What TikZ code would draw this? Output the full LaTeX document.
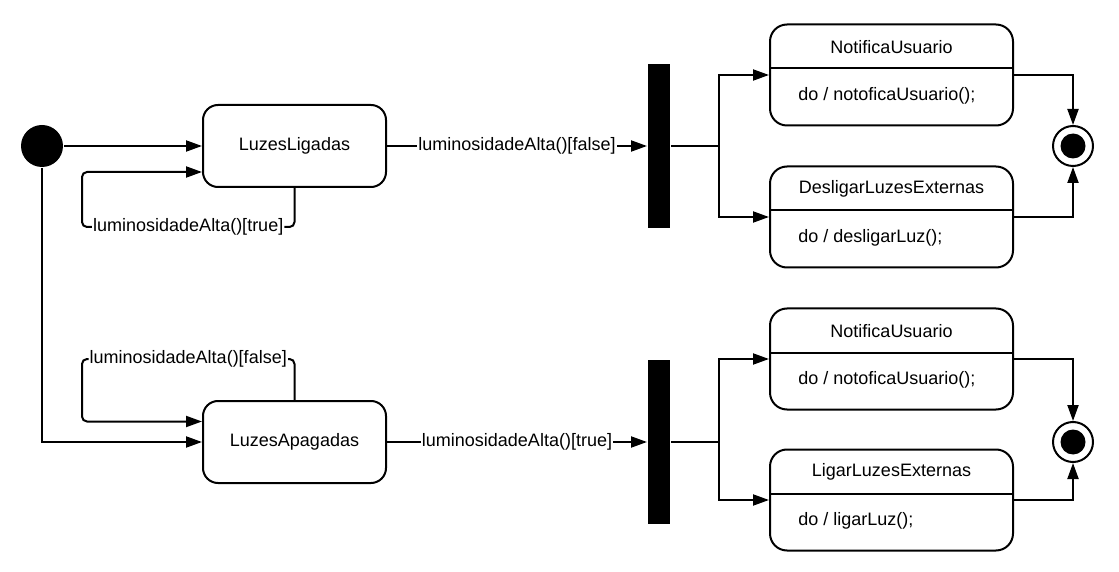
\documentclass[tikz,border=0pt]{standalone}
\usepackage{fontspec}
\setmainfont{Liberation Sans}
\usetikzlibrary{arrows.meta,positioning,calc}

\begin{document}
\begin{tikzpicture}[x=1pt, y=1pt, line width=2pt, >={Triangle[length=16pt,width=11pt]}, font=\fontsize{18pt}{21pt}\selectfont] % y runs upwards

		\tikzstyle{statebox} = [draw, rectangle, rounded corners=15pt, minimum width=183pt, minimum height=82pt, align=center]
		\tikzstyle{umlbox} = [draw, rectangle, rounded corners=17pt, minimum width=243pt, minimum height=101pt]
		\tikzstyle{startstate} = [circle, fill=black, minimum size=42pt, inner sep=0pt]
		\tikzstyle{endstate} = [circle, draw, fill=white, minimum size=40pt, inner sep=0pt, path picture={\fill[black] (path picture bounding box.center) circle (12.5pt);}]
		\tikzstyle{forkbar} = [rectangle, fill=black, minimum width=22pt, minimum height=164pt, inner sep=0pt]
		\tikzstyle{guard} = [fill=white, inner xsep=1pt, inner ysep=2pt]

		\useasboundingbox (0,0) rectangle (1119,571);

		\node [startstate] (start) at (42,425) {};
		\node [statebox] (ligadas) at (294.5,425) {LuzesLigadas};
		\node [statebox, below = 212pt of ligadas] (apagadas) {LuzesApagadas};
		\node [forkbar, right = 260pt of ligadas] (fork1) {};
		\node [forkbar, right = 260pt of apagadas] (fork2) {};

		% lado direito: estados com atividade "do"
		\node [umlbox] (notif1) at (891.5,496) {};
		\node [umlbox] (desl) at (891.5,354) {};
		\node [umlbox] (notif2) at (891.5,212) {};
		\node [umlbox] (ligar) at (891.5,71) {};

		\node (notif1t) at ([yshift=28pt]notif1.center) {NotificaUsuario};
		\node [anchor=west] (notif1d) at ([xshift=25pt, yshift=-20.5pt]notif1.west) {do / notoficaUsuario();};
		\node (deslt) at ([yshift=28pt]desl.center) {DesligarLuzesExternas};
		\node [anchor=west] (desld) at ([xshift=25pt, yshift=-20.5pt]desl.west) {do / desligarLuz();};
		\node (notif2t) at ([yshift=28pt]notif2.center) {NotificaUsuario};
		\node [anchor=west] (notif2d) at ([xshift=25pt, yshift=-20.5pt]notif2.west) {do / notoficaUsuario();};
		\node (ligart) at ([yshift=28pt]ligar.center) {LigarLuzesExternas};
		\node [anchor=west] (ligard) at ([xshift=25pt, yshift=-20.5pt]ligar.west) {do / ligarLuz();};

		\foreach \b in {notif1,desl,notif2,ligar}
			\draw ([yshift=6.5pt]\b.west) -- ([yshift=6.5pt]\b.east);

		\node [endstate] (end1) at (1073,425) {};
		\node [endstate] (end2) at (1073,129) {};

		\coordinate (split1) at ($(fork1.east)+(48,0)$);
		\coordinate (split2) at ($(fork2.east)+(48,0)$);
		\coordinate (loop1) at (82,344);
		\coordinate (loop2) at (82,212);

		\draw [->] (start) -- (ligadas);
		\draw [->] (start) |- (apagadas);
		\draw [->, rounded corners=5pt] (ligadas.south) |- node[guard, pos=0.75] {luminosidadeAlta()[true]} (loop1) |- ([yshift=-26pt]ligadas.west);
		\draw [->, rounded corners=5pt] (apagadas.north) |- node[guard, pos=0.75] {luminosidadeAlta()[false]} (loop2) |- ([yshift=20.5pt]apagadas.west);

		\draw [->] (ligadas) -- node[guard] {luminosidadeAlta()[false]} (fork1);
		\draw [->] (apagadas) -- node[guard] {luminosidadeAlta()[true]} (fork2);

		\draw (fork1) -- (split1);
		\draw [->] (split1) |- (notif1);
		\draw [->] (split1) |- (desl);
		\draw (fork2) -- (split2);
		\draw [->] (split2) |- (notif2);
		\draw [->] (split2) |- (ligar);

		\draw [->] (notif1) -| (end1);
		\draw [->] (desl) -| (end1);
		\draw [->] (notif2) -| (end2);
		\draw [->] (ligar) -| (end2);

\end{tikzpicture}
\end{document}
